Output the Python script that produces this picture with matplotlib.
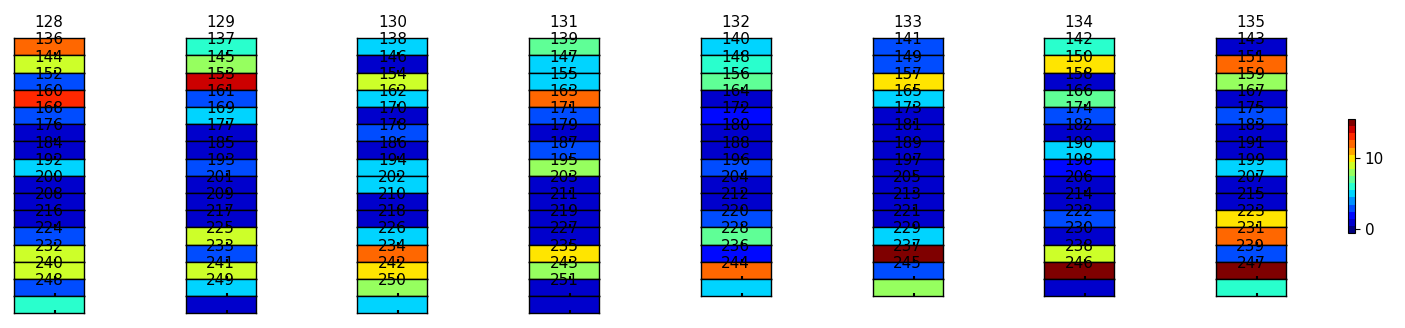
import numpy as np
import matplotlib
matplotlib.use("Agg")
import matplotlib.pyplot as plt

# Cell values (integer level 0..15), one list per column, top to bottom
col_128 = [12, 9, 3, 13, 3, 1, 1, 5, 1, 1, 1, 3, 9, 9, 3, 6]
col_129 = [6, 8, 14, 3, 5, 1, 1, 3, 1, 1, 1, 9, 3, 9, 5, 1]
col_130 = [5, 1, 9, 5, 1, 3, 1, 5, 5, 1, 1, 5, 12, 10, 8, 5]
col_131 = [7, 5, 5, 12, 3, 1, 3, 8, 1, 1, 1, 1, 10, 8, 1, 1]
col_132 = [5, 6, 7, 1, 2, 1, 1, 3, 1, 1, 3, 7, 2, 12, 5]
col_133 = [3, 3, 10, 5, 1, 1, 1, 1, 1, 1, 1, 5, 15, 3, 8]
col_134 = [6, 10, 1, 7, 3, 1, 5, 2, 1, 1, 3, 1, 9, 15, 1]
col_135 = [1, 12, 8, 1, 3, 1, 1, 5, 1, 1, 10, 12, 3, 15, 6]
columns = [col_128, col_129, col_130, col_131, col_132, col_133, col_134, col_135]
first_index = 128
n_cols = 8
cbar_ticks = [0, 10]

W, H = 1405, 328
fig = plt.figure(figsize=(W / 100, H / 100), dpi=100)
cmap = matplotlib.colormaps['jet'].resampled(16)

x0, dx, cw = 14.0, 171.7, 70.0
y0, rh = 38.3, 17.19

im = None
for c, vals in enumerate(columns):
    for r, v in enumerate(vals):
        left = (x0 + dx * c) / W
        bottom = 1 - (y0 + rh * (r + 1)) / H
        ax = fig.add_axes([left, bottom, cw / W, rh / H])
        im = ax.imshow([[v]], cmap=cmap, vmin=-0.5, vmax=15.5, aspect='auto',
                       interpolation='nearest')
        ax.set_title(str(first_index + r * n_cols + c), fontsize=11, pad=8)
        ax.set_xticks([0.086])
        ax.set_xticklabels([])
        ax.set_yticks([])
        ax.tick_params(axis='x', direction='in', length=2, width=1.5)
        for s in ax.spines.values():
            s.set_linewidth(1.0)

cax = fig.add_axes([1348 / W, 1 - 233 / H, 7 / W, 114 / H])
cb = fig.colorbar(im, cax=cax, ticks=cbar_ticks)
cb.ax.tick_params(labelsize=11)

fig.savefig("out.png", dpi=100)
